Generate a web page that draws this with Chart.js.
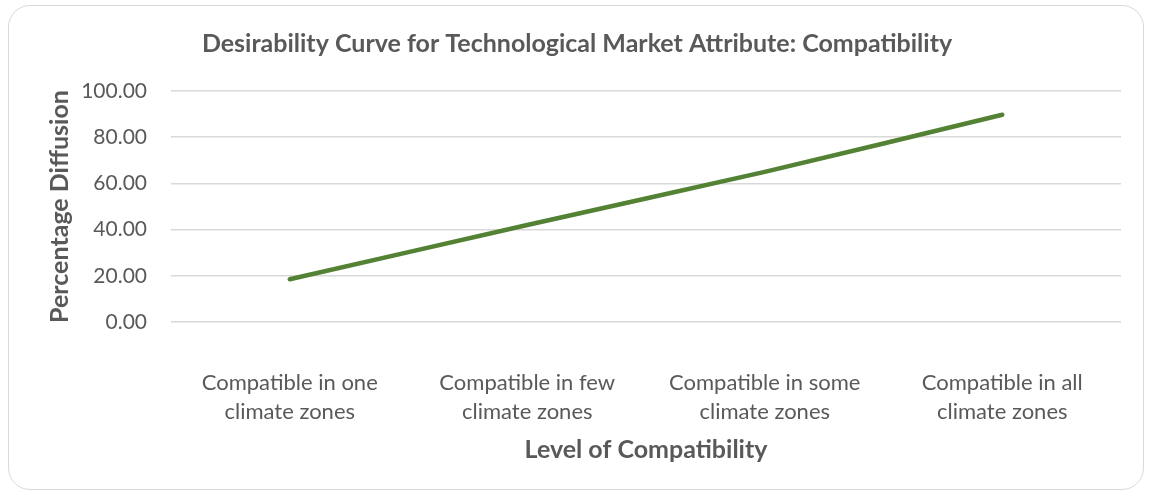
<!DOCTYPE html>
<html>
<head>
<meta charset="utf-8">
<script src="https://cdn.jsdelivr.net/npm/chart.js@4"></script>
<style>
  html, body { margin: 0; padding: 0; background: #fff; }
  #wrap { position: relative; width: 1149px; height: 495px; }
  #frame {
    position: absolute; left: 8px; top: 5px; width: 1136px; height: 485px;
    border: 1px solid #d9d9d9; border-radius: 22px; box-sizing: border-box;
  }
  canvas { position: absolute; left: 0; top: 0; }
</style>
</head>
<body>
<div id="wrap">
  <div id="frame"></div>
  <canvas id="chart" width="1149" height="495"></canvas>
</div>
<script>
// ── DATA ──
const levels = [
    ['Compatible in one', 'climate zones'],
    ['Compatible in few', 'climate zones'],
    ['Compatible in some', 'climate zones'],
    ['Compatible in all', 'climate zones']
];
const diffusion = [18.5, 42, 65, 89.7];
const yTicks = [0, 20, 40, 60, 80, 100];

const TEXT = '#595959';
const FONT = "Lato, 'Open Sans', sans-serif";

// ── CHART ──
new Chart(document.getElementById('chart'), {
    type: 'line',
    data: {
        labels: levels,
        datasets: [{
            label: 'Percentage Diffusion',
            data: diffusion,
            borderColor: '#548235',
            borderWidth: 4.5,
            borderCapStyle: 'round',
            pointRadius: 0,
            tension: 0.2,
            fill: false
        }]
    },
    options: {
        responsive: false,
        animation: false,
        // left padding keeps the title centred on the frame, not the plot
        layout: { padding: { left: 33, right: 28, top: 0, bottom: 0 } },
        plugins: {
            legend: { display: false },
            tooltip: { enabled: false },
            title: {
                display: true,
                text: 'Desirability Curve for Technological Market Attribute: Compatibility',
                color: TEXT,
                font: { family: FONT, size: 25, weight: 'bold', lineHeight: 1.2 },
                padding: { top: 29, bottom: 32 }
            }
        },
        scales: {
            x: {
                offset: true,
                grid: { display: false },
                border: { display: false },
                ticks: {
                    color: TEXT,
                    font: { family: FONT, size: 22, lineHeight: 1.3 },
                    padding: 39,
                    maxRotation: 0
                },
                title: {
                    display: true,
                    text: 'Level of Compatibility',
                    color: TEXT,
                    font: { family: FONT, size: 25, weight: 'bold', lineHeight: 1.2 },
                    padding: { top: 0, bottom: 30 }
                },
                afterFit: s => { s.height = 495 - 322; }
            },
            y: {
                min: 0,
                max: 100,
                afterBuildTicks: s => { s.ticks = yTicks.map(v => ({ value: v })); },
                grid: { color: '#d9d9d9', lineWidth: 1.5, drawTicks: false },
                border: { display: false },
                ticks: {
                    color: TEXT,
                    font: { family: FONT, size: 21 },
                    padding: 24,
                    callback: v => v.toFixed(2)
                },
                title: {
                    display: true,
                    text: 'Percentage Diffusion',
                    color: TEXT,
                    font: { family: FONT, size: 25, weight: 'bold', lineHeight: 1.2 },
                    padding: { top: 12, bottom: 0 }
                },
                afterFit: s => { s.width = 171 - 33; }
            }
        }
    }
});
</script>
</body>
</html>
